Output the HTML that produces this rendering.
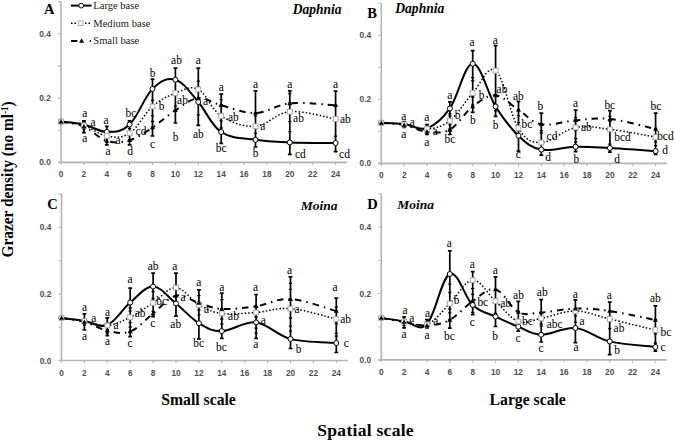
<!DOCTYPE html>
<html><head><meta charset="utf-8"><style>
html,body{margin:0;padding:0;background:#fff;width:675px;height:442px;overflow:hidden}
svg{display:block;font-family:"Liberation Serif",serif}
</style></head><body>
<svg width="675" height="442" viewBox="0 0 675 442">
<rect width="675" height="442" fill="#fff"/>
<path d="M61.0,1.6V162.4M58.0,162.4H347.0" stroke="#b4b4b4" stroke-width="1.6" fill="none"/>
<path d="M58.0,162.4H61.0M58.0,130.2H61.0M58.0,98.1H61.0M58.0,65.9H61.0M58.0,33.8H61.0M58.0,1.6H61.0M61.0,162.4v2.5M83.9,162.4v2.5M106.8,162.4v2.5M129.6,162.4v2.5M152.5,162.4v2.5M175.4,162.4v2.5M198.3,162.4v2.5M221.2,162.4v2.5M244.0,162.4v2.5M266.9,162.4v2.5M289.8,162.4v2.5M312.7,162.4v2.5M335.6,162.4v2.5" stroke="#b4b4b4" stroke-width="1.1" fill="none"/>
<text x="50.8" y="165.4" text-anchor="end" font-family="Liberation Sans" font-weight="bold" font-size="8.3" fill="#4f4f4f">0.0</text>
<text x="50.8" y="101.1" text-anchor="end" font-family="Liberation Sans" font-weight="bold" font-size="8.3" fill="#4f4f4f">0.2</text>
<text x="50.8" y="36.8" text-anchor="end" font-family="Liberation Sans" font-weight="bold" font-size="8.3" fill="#4f4f4f">0.4</text>
<text x="61.0" y="177.4" text-anchor="middle" font-family="Liberation Sans" font-weight="bold" font-size="8.3" fill="#4f4f4f">0</text>
<text x="83.9" y="177.4" text-anchor="middle" font-family="Liberation Sans" font-weight="bold" font-size="8.3" fill="#4f4f4f">2</text>
<text x="106.8" y="177.4" text-anchor="middle" font-family="Liberation Sans" font-weight="bold" font-size="8.3" fill="#4f4f4f">4</text>
<text x="129.6" y="177.4" text-anchor="middle" font-family="Liberation Sans" font-weight="bold" font-size="8.3" fill="#4f4f4f">6</text>
<text x="152.5" y="177.4" text-anchor="middle" font-family="Liberation Sans" font-weight="bold" font-size="8.3" fill="#4f4f4f">8</text>
<text x="175.4" y="177.4" text-anchor="middle" font-family="Liberation Sans" font-weight="bold" font-size="8.3" fill="#4f4f4f">10</text>
<text x="198.3" y="177.4" text-anchor="middle" font-family="Liberation Sans" font-weight="bold" font-size="8.3" fill="#4f4f4f">12</text>
<text x="221.2" y="177.4" text-anchor="middle" font-family="Liberation Sans" font-weight="bold" font-size="8.3" fill="#4f4f4f">14</text>
<text x="244.0" y="177.4" text-anchor="middle" font-family="Liberation Sans" font-weight="bold" font-size="8.3" fill="#4f4f4f">16</text>
<text x="266.9" y="177.4" text-anchor="middle" font-family="Liberation Sans" font-weight="bold" font-size="8.3" fill="#4f4f4f">18</text>
<text x="289.8" y="177.4" text-anchor="middle" font-family="Liberation Sans" font-weight="bold" font-size="8.3" fill="#4f4f4f">20</text>
<text x="312.7" y="177.4" text-anchor="middle" font-family="Liberation Sans" font-weight="bold" font-size="8.3" fill="#4f4f4f">22</text>
<text x="335.6" y="177.4" text-anchor="middle" font-family="Liberation Sans" font-weight="bold" font-size="8.3" fill="#4f4f4f">24</text>
<path d="M381.3,3.3V163.4M378.3,163.4H667.0" stroke="#b4b4b4" stroke-width="1.6" fill="none"/>
<path d="M378.3,163.4H381.3M378.3,131.4H381.3M378.3,99.4H381.3M378.3,67.3H381.3M378.3,35.3H381.3M378.3,3.3H381.3M381.3,163.4v2.5M404.2,163.4v2.5M427.0,163.4v2.5M449.9,163.4v2.5M472.7,163.4v2.5M495.6,163.4v2.5M518.5,163.4v2.5M541.3,163.4v2.5M564.2,163.4v2.5M587.0,163.4v2.5M609.9,163.4v2.5M632.8,163.4v2.5M655.6,163.4v2.5" stroke="#b4b4b4" stroke-width="1.1" fill="none"/>
<text x="371.1" y="166.4" text-anchor="end" font-family="Liberation Sans" font-weight="bold" font-size="8.3" fill="#4f4f4f">0.0</text>
<text x="371.1" y="102.4" text-anchor="end" font-family="Liberation Sans" font-weight="bold" font-size="8.3" fill="#4f4f4f">0.2</text>
<text x="371.1" y="38.3" text-anchor="end" font-family="Liberation Sans" font-weight="bold" font-size="8.3" fill="#4f4f4f">0.4</text>
<text x="381.3" y="178.4" text-anchor="middle" font-family="Liberation Sans" font-weight="bold" font-size="8.3" fill="#4f4f4f">0</text>
<text x="404.2" y="178.4" text-anchor="middle" font-family="Liberation Sans" font-weight="bold" font-size="8.3" fill="#4f4f4f">2</text>
<text x="427.0" y="178.4" text-anchor="middle" font-family="Liberation Sans" font-weight="bold" font-size="8.3" fill="#4f4f4f">4</text>
<text x="449.9" y="178.4" text-anchor="middle" font-family="Liberation Sans" font-weight="bold" font-size="8.3" fill="#4f4f4f">6</text>
<text x="472.7" y="178.4" text-anchor="middle" font-family="Liberation Sans" font-weight="bold" font-size="8.3" fill="#4f4f4f">8</text>
<text x="495.6" y="178.4" text-anchor="middle" font-family="Liberation Sans" font-weight="bold" font-size="8.3" fill="#4f4f4f">10</text>
<text x="518.5" y="178.4" text-anchor="middle" font-family="Liberation Sans" font-weight="bold" font-size="8.3" fill="#4f4f4f">12</text>
<text x="541.3" y="178.4" text-anchor="middle" font-family="Liberation Sans" font-weight="bold" font-size="8.3" fill="#4f4f4f">14</text>
<text x="564.2" y="178.4" text-anchor="middle" font-family="Liberation Sans" font-weight="bold" font-size="8.3" fill="#4f4f4f">16</text>
<text x="587.0" y="178.4" text-anchor="middle" font-family="Liberation Sans" font-weight="bold" font-size="8.3" fill="#4f4f4f">18</text>
<text x="609.9" y="178.4" text-anchor="middle" font-family="Liberation Sans" font-weight="bold" font-size="8.3" fill="#4f4f4f">20</text>
<text x="632.8" y="178.4" text-anchor="middle" font-family="Liberation Sans" font-weight="bold" font-size="8.3" fill="#4f4f4f">22</text>
<text x="655.6" y="178.4" text-anchor="middle" font-family="Liberation Sans" font-weight="bold" font-size="8.3" fill="#4f4f4f">24</text>
<path d="M61.5,194.1V360.5M58.5,360.5H347.8" stroke="#b4b4b4" stroke-width="1.6" fill="none"/>
<path d="M58.5,360.5H61.5M58.5,327.2H61.5M58.5,293.9H61.5M58.5,260.7H61.5M58.5,227.4H61.5M58.5,194.1H61.5M61.5,360.5v2.5M84.4,360.5v2.5M107.3,360.5v2.5M130.2,360.5v2.5M153.1,360.5v2.5M176.0,360.5v2.5M198.9,360.5v2.5M221.8,360.5v2.5M244.7,360.5v2.5M267.6,360.5v2.5M290.5,360.5v2.5M313.4,360.5v2.5M336.3,360.5v2.5" stroke="#b4b4b4" stroke-width="1.1" fill="none"/>
<text x="51.3" y="363.5" text-anchor="end" font-family="Liberation Sans" font-weight="bold" font-size="8.3" fill="#4f4f4f">0.0</text>
<text x="51.3" y="296.9" text-anchor="end" font-family="Liberation Sans" font-weight="bold" font-size="8.3" fill="#4f4f4f">0.2</text>
<text x="51.3" y="230.4" text-anchor="end" font-family="Liberation Sans" font-weight="bold" font-size="8.3" fill="#4f4f4f">0.4</text>
<text x="61.5" y="375.5" text-anchor="middle" font-family="Liberation Sans" font-weight="bold" font-size="8.3" fill="#4f4f4f">0</text>
<text x="84.4" y="375.5" text-anchor="middle" font-family="Liberation Sans" font-weight="bold" font-size="8.3" fill="#4f4f4f">2</text>
<text x="107.3" y="375.5" text-anchor="middle" font-family="Liberation Sans" font-weight="bold" font-size="8.3" fill="#4f4f4f">4</text>
<text x="130.2" y="375.5" text-anchor="middle" font-family="Liberation Sans" font-weight="bold" font-size="8.3" fill="#4f4f4f">6</text>
<text x="153.1" y="375.5" text-anchor="middle" font-family="Liberation Sans" font-weight="bold" font-size="8.3" fill="#4f4f4f">8</text>
<text x="176.0" y="375.5" text-anchor="middle" font-family="Liberation Sans" font-weight="bold" font-size="8.3" fill="#4f4f4f">10</text>
<text x="198.9" y="375.5" text-anchor="middle" font-family="Liberation Sans" font-weight="bold" font-size="8.3" fill="#4f4f4f">12</text>
<text x="221.8" y="375.5" text-anchor="middle" font-family="Liberation Sans" font-weight="bold" font-size="8.3" fill="#4f4f4f">14</text>
<text x="244.7" y="375.5" text-anchor="middle" font-family="Liberation Sans" font-weight="bold" font-size="8.3" fill="#4f4f4f">16</text>
<text x="267.6" y="375.5" text-anchor="middle" font-family="Liberation Sans" font-weight="bold" font-size="8.3" fill="#4f4f4f">18</text>
<text x="290.5" y="375.5" text-anchor="middle" font-family="Liberation Sans" font-weight="bold" font-size="8.3" fill="#4f4f4f">20</text>
<text x="313.4" y="375.5" text-anchor="middle" font-family="Liberation Sans" font-weight="bold" font-size="8.3" fill="#4f4f4f">22</text>
<text x="336.3" y="375.5" text-anchor="middle" font-family="Liberation Sans" font-weight="bold" font-size="8.3" fill="#4f4f4f">24</text>
<path d="M381.3,193.8V359.9M378.3,359.9H666.8" stroke="#b4b4b4" stroke-width="1.6" fill="none"/>
<path d="M378.3,359.9H381.3M378.3,326.7H381.3M378.3,293.5H381.3M378.3,260.2H381.3M378.3,227.0H381.3M378.3,193.8H381.3M381.3,359.9v2.5M404.1,359.9v2.5M427.0,359.9v2.5M449.8,359.9v2.5M472.7,359.9v2.5M495.5,359.9v2.5M518.3,359.9v2.5M541.2,359.9v2.5M564.0,359.9v2.5M586.9,359.9v2.5M609.7,359.9v2.5M632.5,359.9v2.5M655.4,359.9v2.5" stroke="#b4b4b4" stroke-width="1.1" fill="none"/>
<text x="371.1" y="362.9" text-anchor="end" font-family="Liberation Sans" font-weight="bold" font-size="8.3" fill="#4f4f4f">0.0</text>
<text x="371.1" y="296.5" text-anchor="end" font-family="Liberation Sans" font-weight="bold" font-size="8.3" fill="#4f4f4f">0.2</text>
<text x="371.1" y="230.0" text-anchor="end" font-family="Liberation Sans" font-weight="bold" font-size="8.3" fill="#4f4f4f">0.4</text>
<text x="381.3" y="374.9" text-anchor="middle" font-family="Liberation Sans" font-weight="bold" font-size="8.3" fill="#4f4f4f">0</text>
<text x="404.1" y="374.9" text-anchor="middle" font-family="Liberation Sans" font-weight="bold" font-size="8.3" fill="#4f4f4f">2</text>
<text x="427.0" y="374.9" text-anchor="middle" font-family="Liberation Sans" font-weight="bold" font-size="8.3" fill="#4f4f4f">4</text>
<text x="449.8" y="374.9" text-anchor="middle" font-family="Liberation Sans" font-weight="bold" font-size="8.3" fill="#4f4f4f">6</text>
<text x="472.7" y="374.9" text-anchor="middle" font-family="Liberation Sans" font-weight="bold" font-size="8.3" fill="#4f4f4f">8</text>
<text x="495.5" y="374.9" text-anchor="middle" font-family="Liberation Sans" font-weight="bold" font-size="8.3" fill="#4f4f4f">10</text>
<text x="518.3" y="374.9" text-anchor="middle" font-family="Liberation Sans" font-weight="bold" font-size="8.3" fill="#4f4f4f">12</text>
<text x="541.2" y="374.9" text-anchor="middle" font-family="Liberation Sans" font-weight="bold" font-size="8.3" fill="#4f4f4f">14</text>
<text x="564.0" y="374.9" text-anchor="middle" font-family="Liberation Sans" font-weight="bold" font-size="8.3" fill="#4f4f4f">16</text>
<text x="586.9" y="374.9" text-anchor="middle" font-family="Liberation Sans" font-weight="bold" font-size="8.3" fill="#4f4f4f">18</text>
<text x="609.7" y="374.9" text-anchor="middle" font-family="Liberation Sans" font-weight="bold" font-size="8.3" fill="#4f4f4f">20</text>
<text x="632.5" y="374.9" text-anchor="middle" font-family="Liberation Sans" font-weight="bold" font-size="8.3" fill="#4f4f4f">22</text>
<text x="655.4" y="374.9" text-anchor="middle" font-family="Liberation Sans" font-weight="bold" font-size="8.3" fill="#4f4f4f">24</text>
<path d="M83.9,120.8V132.6M82.0,120.8h3.8M82.0,132.6h3.8" stroke="#000" stroke-width="1.7" fill="none"/>
<path d="M82.3,121.3h3.2M82.3,129.0h3.2" stroke="#000" stroke-width="1.3" fill="none"/>
<path d="M106.8,126.3V144.8M104.9,126.3h3.8M104.9,144.8h3.8" stroke="#000" stroke-width="1.7" fill="none"/>
<path d="M105.2,138.5h3.2" stroke="#000" stroke-width="1.3" fill="none"/>
<path d="M129.6,120.9V144.8M127.7,120.9h3.8M127.7,144.8h3.8" stroke="#000" stroke-width="1.7" fill="none"/>
<path d="M128.0,128.6h3.2M128.0,139.9h3.2" stroke="#000" stroke-width="1.3" fill="none"/>
<path d="M152.5,79.2V136.0M150.6,79.2h3.8M150.6,136.0h3.8" stroke="#000" stroke-width="1.7" fill="none"/>
<path d="M150.9,100.4h3.2M150.9,115.8h3.2M150.9,121.5h3.2M150.9,127.3h3.2" stroke="#000" stroke-width="1.3" fill="none"/>
<path d="M175.4,68.1V123.0M173.5,68.1h3.8M173.5,123.0h3.8" stroke="#000" stroke-width="1.7" fill="none"/>
<path d="M173.8,91.7h3.2M173.8,106.2h3.2M173.8,111.0h3.2" stroke="#000" stroke-width="1.3" fill="none"/>
<path d="M198.3,68.1V125.4M196.4,68.1h3.8M196.4,125.4h3.8" stroke="#000" stroke-width="1.7" fill="none"/>
<path d="M196.7,81.2h3.2M196.7,86.9h3.2M196.7,98.5h3.2M196.7,114.8h3.2" stroke="#000" stroke-width="1.3" fill="none"/>
<path d="M221.2,94.1V143.4M219.3,94.1h3.8M219.3,143.4h3.8" stroke="#000" stroke-width="1.7" fill="none"/>
<path d="M219.6,99.6h3.2M219.6,105.0h3.2M219.6,120.8h3.2M219.6,128.0h3.2" stroke="#000" stroke-width="1.3" fill="none"/>
<path d="M255.5,90.9V147.0M253.6,90.9h3.8M253.6,147.0h3.8" stroke="#000" stroke-width="1.7" fill="none"/>
<path d="M253.9,112.6h3.2M253.9,116.2h3.2M253.9,133.4h3.2" stroke="#000" stroke-width="1.3" fill="none"/>
<path d="M289.8,90.9V154.3M287.9,90.9h3.8M287.9,154.3h3.8" stroke="#000" stroke-width="1.7" fill="none"/>
<path d="M288.2,93.6h3.2M288.2,102.6h3.2M288.2,121.7h3.2M288.2,131.6h3.2" stroke="#000" stroke-width="1.3" fill="none"/>
<path d="M335.6,91.2V151.6M333.7,91.2h3.8M333.7,151.6h3.8" stroke="#000" stroke-width="1.7" fill="none"/>
<path d="M334.0,105.4h3.2M334.0,136.2h3.2" stroke="#000" stroke-width="1.3" fill="none"/>
<path d="M61.00,121.60 C65.12,122.12 75.64,122.66 83.88,124.50 C92.12,126.34 98.52,131.80 106.76,131.80 C115.00,131.80 121.40,132.22 129.64,124.50 C137.88,116.78 144.28,96.96 152.52,88.90 C160.76,80.84 167.16,77.34 175.40,79.70 C183.64,82.06 190.04,92.59 198.28,102.00 C206.52,111.41 210.86,125.20 221.16,132.00 C231.46,138.80 243.12,137.93 255.48,139.80 C267.84,141.67 275.39,141.82 289.80,142.40 C304.21,142.98 327.32,142.89 335.56,143.00" stroke="#000" stroke-width="2" fill="none"/>
<path d="M61.00,121.60 C65.12,122.30 75.64,122.91 83.88,125.50 C92.12,128.09 98.52,134.61 106.76,136.00 C115.00,137.39 121.40,138.51 129.64,133.20 C137.88,127.89 144.28,113.70 152.52,106.50 C160.76,99.30 167.16,96.28 175.40,93.20 C183.64,90.12 190.04,85.31 198.28,89.40 C206.52,93.49 210.86,109.26 221.16,115.90 C231.46,122.54 243.12,127.06 255.48,126.30 C267.84,125.54 275.39,113.01 289.80,111.70 C304.21,110.39 327.32,117.69 335.56,119.00" stroke="#000" stroke-width="1.5" fill="none" stroke-dasharray="1.5 2"/>
<path d="M61.00,121.80 C65.12,122.65 75.64,123.04 83.88,126.50 C92.12,129.96 98.52,138.53 106.76,141.00 C115.00,143.47 121.40,142.63 129.64,140.20 C137.88,137.77 144.28,132.90 152.52,127.50 C160.76,122.10 167.16,115.47 175.40,110.20 C183.64,104.93 190.04,99.10 198.28,98.20 C206.52,97.30 210.86,102.54 221.16,105.20 C231.46,107.86 243.12,113.32 255.48,113.00 C267.84,112.68 275.39,104.80 289.80,103.40 C304.21,102.00 327.32,104.88 335.56,105.20" stroke="#000" stroke-width="2" fill="none" stroke-dasharray="6.5 5 1.5 5"/>
<circle cx="61.0" cy="121.6" r="2.5" fill="#fff" stroke="#000" stroke-width="1"/>
<circle cx="83.9" cy="124.5" r="2.5" fill="#fff" stroke="#000" stroke-width="1"/>
<circle cx="106.8" cy="131.8" r="2.5" fill="#fff" stroke="#000" stroke-width="1"/>
<circle cx="129.6" cy="124.5" r="2.5" fill="#fff" stroke="#000" stroke-width="1"/>
<circle cx="152.5" cy="88.9" r="2.5" fill="#fff" stroke="#000" stroke-width="1"/>
<circle cx="175.4" cy="79.7" r="2.5" fill="#fff" stroke="#000" stroke-width="1"/>
<circle cx="198.3" cy="102.0" r="2.5" fill="#fff" stroke="#000" stroke-width="1"/>
<circle cx="221.2" cy="132.0" r="2.5" fill="#fff" stroke="#000" stroke-width="1"/>
<circle cx="255.5" cy="139.8" r="2.5" fill="#fff" stroke="#000" stroke-width="1"/>
<circle cx="289.8" cy="142.4" r="2.5" fill="#fff" stroke="#000" stroke-width="1"/>
<circle cx="335.6" cy="143.0" r="2.5" fill="#fff" stroke="#000" stroke-width="1"/>
<rect x="58.6" y="119.2" width="4.8" height="4.8" fill="#fff" stroke="#aaa" stroke-width="1"/>
<rect x="81.5" y="123.1" width="4.8" height="4.8" fill="#fff" stroke="#aaa" stroke-width="1"/>
<rect x="104.4" y="133.6" width="4.8" height="4.8" fill="#fff" stroke="#aaa" stroke-width="1"/>
<rect x="127.2" y="130.8" width="4.8" height="4.8" fill="#fff" stroke="#aaa" stroke-width="1"/>
<rect x="150.1" y="104.1" width="4.8" height="4.8" fill="#fff" stroke="#aaa" stroke-width="1"/>
<rect x="173.0" y="90.8" width="4.8" height="4.8" fill="#fff" stroke="#aaa" stroke-width="1"/>
<rect x="195.9" y="87.0" width="4.8" height="4.8" fill="#fff" stroke="#aaa" stroke-width="1"/>
<rect x="218.8" y="113.5" width="4.8" height="4.8" fill="#fff" stroke="#aaa" stroke-width="1"/>
<rect x="253.1" y="123.9" width="4.8" height="4.8" fill="#fff" stroke="#aaa" stroke-width="1"/>
<rect x="287.4" y="109.3" width="4.8" height="4.8" fill="#fff" stroke="#aaa" stroke-width="1"/>
<rect x="333.2" y="116.6" width="4.8" height="4.8" fill="#fff" stroke="#aaa" stroke-width="1"/>
<path d="M61.0,119.2L63.5,123.6L58.5,123.6Z" fill="#000"/>
<path d="M83.9,123.9L86.4,128.3L81.4,128.3Z" fill="#000"/>
<path d="M106.8,138.4L109.3,142.8L104.3,142.8Z" fill="#000"/>
<path d="M129.6,137.6L132.1,142.0L127.1,142.0Z" fill="#000"/>
<path d="M152.5,124.9L155.0,129.3L150.0,129.3Z" fill="#000"/>
<path d="M175.4,107.6L177.9,112.0L172.9,112.0Z" fill="#000"/>
<path d="M198.3,95.6L200.8,100.0L195.8,100.0Z" fill="#000"/>
<path d="M221.2,102.6L223.7,107.0L218.7,107.0Z" fill="#000"/>
<path d="M255.5,110.4L258.0,114.8L253.0,114.8Z" fill="#000"/>
<path d="M289.8,100.8L292.3,105.2L287.3,105.2Z" fill="#000"/>
<path d="M335.6,102.6L338.1,107.0L333.1,107.0Z" fill="#000"/>
<text transform="translate(84.8,116.8) scale(0.93,1)" text-anchor="middle" font-family="Liberation Serif" font-size="12.3" fill="#000" stroke="#000" stroke-width="0.05">a</text>
<text transform="translate(93.0,125.6) scale(0.93,1)" text-anchor="middle" font-family="Liberation Serif" font-size="12.3" fill="#000" stroke="#000" stroke-width="0.05">a</text>
<text transform="translate(84.8,142.4) scale(0.93,1)" text-anchor="middle" font-family="Liberation Serif" font-size="12.3" fill="#000" stroke="#000" stroke-width="0.05">a</text>
<text transform="translate(106.0,123.8) scale(0.93,1)" text-anchor="middle" font-family="Liberation Serif" font-size="12.3" fill="#000" stroke="#000" stroke-width="0.05">a</text>
<text transform="translate(108.0,154.7) scale(0.93,1)" text-anchor="middle" font-family="Liberation Serif" font-size="12.3" fill="#000" stroke="#000" stroke-width="0.05">a</text>
<text transform="translate(118.0,144.4) scale(0.93,1)" text-anchor="middle" font-family="Liberation Serif" font-size="12.3" fill="#000" stroke="#000" stroke-width="0.05">a</text>
<text transform="translate(131.0,116.6) scale(0.93,1)" text-anchor="middle" font-family="Liberation Serif" font-size="12.3" fill="#000" stroke="#000" stroke-width="0.05">bc</text>
<text transform="translate(141.0,134.9) scale(0.93,1)" text-anchor="middle" font-family="Liberation Serif" font-size="12.3" fill="#000" stroke="#000" stroke-width="0.05">cd</text>
<text transform="translate(130.0,154.9) scale(0.93,1)" text-anchor="middle" font-family="Liberation Serif" font-size="12.3" fill="#000" stroke="#000" stroke-width="0.05">d</text>
<text transform="translate(152.6,77.0) scale(0.93,1)" text-anchor="middle" font-family="Liberation Serif" font-size="12.3" fill="#000" stroke="#000" stroke-width="0.05">b</text>
<text transform="translate(161.5,110.2) scale(0.93,1)" text-anchor="middle" font-family="Liberation Serif" font-size="12.3" fill="#000" stroke="#000" stroke-width="0.05">b</text>
<text transform="translate(152.6,147.5) scale(0.93,1)" text-anchor="middle" font-family="Liberation Serif" font-size="12.3" fill="#000" stroke="#000" stroke-width="0.05">c</text>
<text transform="translate(176.5,64.4) scale(0.93,1)" text-anchor="middle" font-family="Liberation Serif" font-size="12.3" fill="#000" stroke="#000" stroke-width="0.05">ab</text>
<text transform="translate(182.5,103.9) scale(0.93,1)" text-anchor="middle" font-family="Liberation Serif" font-size="12.3" fill="#000" stroke="#000" stroke-width="0.05">ab</text>
<text transform="translate(175.5,140.9) scale(0.93,1)" text-anchor="middle" font-family="Liberation Serif" font-size="12.3" fill="#000" stroke="#000" stroke-width="0.05">b</text>
<text transform="translate(198.4,64.4) scale(0.93,1)" text-anchor="middle" font-family="Liberation Serif" font-size="12.3" fill="#000" stroke="#000" stroke-width="0.05">a</text>
<text transform="translate(205.5,105.4) scale(0.93,1)" text-anchor="middle" font-family="Liberation Serif" font-size="12.3" fill="#000" stroke="#000" stroke-width="0.05">a</text>
<text transform="translate(198.4,138.0) scale(0.93,1)" text-anchor="middle" font-family="Liberation Serif" font-size="12.3" fill="#000" stroke="#000" stroke-width="0.05">ab</text>
<text transform="translate(221.2,91.2) scale(0.93,1)" text-anchor="middle" font-family="Liberation Serif" font-size="12.3" fill="#000" stroke="#000" stroke-width="0.05">a</text>
<text transform="translate(233.4,121.4) scale(0.93,1)" text-anchor="middle" font-family="Liberation Serif" font-size="12.3" fill="#000" stroke="#000" stroke-width="0.05">ab</text>
<text transform="translate(221.2,152.4) scale(0.93,1)" text-anchor="middle" font-family="Liberation Serif" font-size="12.3" fill="#000" stroke="#000" stroke-width="0.05">bc</text>
<text transform="translate(255.5,88.3) scale(0.93,1)" text-anchor="middle" font-family="Liberation Serif" font-size="12.3" fill="#000" stroke="#000" stroke-width="0.05">a</text>
<text transform="translate(262.8,129.7) scale(0.93,1)" text-anchor="middle" font-family="Liberation Serif" font-size="12.3" fill="#000" stroke="#000" stroke-width="0.05">a</text>
<text transform="translate(255.5,157.4) scale(0.93,1)" text-anchor="middle" font-family="Liberation Serif" font-size="12.3" fill="#000" stroke="#000" stroke-width="0.05">b</text>
<text transform="translate(289.8,88.3) scale(0.93,1)" text-anchor="middle" font-family="Liberation Serif" font-size="12.3" fill="#000" stroke="#000" stroke-width="0.05">a</text>
<text transform="translate(298.5,121.6) scale(0.93,1)" text-anchor="middle" font-family="Liberation Serif" font-size="12.3" fill="#000" stroke="#000" stroke-width="0.05">ab</text>
<text transform="translate(300.4,157.6) scale(0.93,1)" text-anchor="middle" font-family="Liberation Serif" font-size="12.3" fill="#000" stroke="#000" stroke-width="0.05">cd</text>
<text transform="translate(335.5,88.3) scale(0.93,1)" text-anchor="middle" font-family="Liberation Serif" font-size="12.3" fill="#000" stroke="#000" stroke-width="0.05">a</text>
<text transform="translate(345.3,122.9) scale(0.93,1)" text-anchor="middle" font-family="Liberation Serif" font-size="12.3" fill="#000" stroke="#000" stroke-width="0.05">ab</text>
<text transform="translate(344.5,157.6) scale(0.93,1)" text-anchor="middle" font-family="Liberation Serif" font-size="12.3" fill="#000" stroke="#000" stroke-width="0.05">cd</text>
<path d="M404.2,121.5V127.5M402.3,121.5h3.8M402.3,127.5h3.8" stroke="#000" stroke-width="1.7" fill="none"/>
<path d="M427.0,124.5V134.5M425.1,124.5h3.8M425.1,134.5h3.8" stroke="#000" stroke-width="1.7" fill="none"/>
<path d="M425.4,131.7h3.2" stroke="#000" stroke-width="1.3" fill="none"/>
<path d="M449.9,101.8V134.5M448.0,101.8h3.8M448.0,134.5h3.8" stroke="#000" stroke-width="1.7" fill="none"/>
<path d="M448.3,113.6h3.2M448.3,115.9h3.2M448.3,125.0h3.2M448.3,128.9h3.2M448.3,131.2h3.2" stroke="#000" stroke-width="1.3" fill="none"/>
<path d="M472.7,50.6V112.3M470.8,50.6h3.8M470.8,112.3h3.8" stroke="#000" stroke-width="1.7" fill="none"/>
<path d="M471.1,77.7h3.2M471.1,80.7h3.2M471.1,97.0h3.2M471.1,105.2h3.2" stroke="#000" stroke-width="1.3" fill="none"/>
<path d="M495.6,45.7V116.4M493.7,45.7h3.8M493.7,116.4h3.8" stroke="#000" stroke-width="1.7" fill="none"/>
<path d="M494.0,94.6h3.2M494.0,110.9h3.2" stroke="#000" stroke-width="1.3" fill="none"/>
<path d="M518.5,101.3V151.2M516.6,101.3h3.8M516.6,151.2h3.8" stroke="#000" stroke-width="1.7" fill="none"/>
<path d="M516.9,110.5h3.2M516.9,115.6h3.2M516.9,122.7h3.2" stroke="#000" stroke-width="1.3" fill="none"/>
<path d="M541.3,113.2V155.1M539.4,113.2h3.8M539.4,155.1h3.8" stroke="#000" stroke-width="1.7" fill="none"/>
<path d="M539.7,124.3h3.2M539.7,130.6h3.2M539.7,133.0h3.2" stroke="#000" stroke-width="1.3" fill="none"/>
<path d="M575.6,110.2V151.6M573.7,110.2h3.8M573.7,151.6h3.8" stroke="#000" stroke-width="1.7" fill="none"/>
<path d="M574.0,117.6h3.2M574.0,121.0h3.2M574.0,130.5h3.2M574.0,138.7h3.2M574.0,142.0h3.2" stroke="#000" stroke-width="1.3" fill="none"/>
<path d="M609.9,110.6V152.2M608.0,110.6h3.8M608.0,152.2h3.8" stroke="#000" stroke-width="1.7" fill="none"/>
<path d="M608.3,116.3h3.2M608.3,121.0h3.2M608.3,144.1h3.2" stroke="#000" stroke-width="1.3" fill="none"/>
<path d="M655.6,113.2V154.4M653.7,113.2h3.8M653.7,154.4h3.8" stroke="#000" stroke-width="1.7" fill="none"/>
<path d="M654.0,128.3h3.2M654.0,141.8h3.2M654.0,145.7h3.2" stroke="#000" stroke-width="1.3" fill="none"/>
<path d="M381.30,122.80 C385.41,123.02 395.93,123.03 404.16,124.00 C412.39,124.97 418.79,131.01 427.02,128.20 C435.25,125.39 441.65,120.01 449.88,108.40 C458.11,96.79 464.51,64.04 472.74,63.70 C480.97,63.36 487.37,93.52 495.60,106.50 C503.83,119.48 510.23,128.04 518.46,135.80 C526.69,143.56 531.03,147.64 541.32,149.60 C551.61,151.56 563.27,146.99 575.61,146.70 C587.95,146.41 595.50,147.21 609.90,148.00 C624.30,148.79 647.39,150.54 655.62,151.10" stroke="#000" stroke-width="2" fill="none"/>
<path d="M381.30,122.80 C385.41,123.11 395.93,123.38 404.16,124.50 C412.39,125.62 418.79,129.68 427.02,129.00 C435.25,128.32 441.65,127.18 449.88,120.70 C458.11,114.22 464.51,102.00 472.74,93.00 C480.97,84.00 487.37,64.38 495.60,70.70 C503.83,77.02 510.23,115.18 518.46,128.10 C526.69,141.02 531.03,142.61 541.32,142.50 C551.61,142.39 563.27,129.88 575.61,127.50 C587.95,125.12 595.50,127.57 609.90,129.30 C624.30,131.03 647.39,135.70 655.62,137.10" stroke="#000" stroke-width="1.5" fill="none" stroke-dasharray="1.5 2"/>
<path d="M381.30,123.00 C385.41,123.36 395.93,123.45 404.16,125.00 C412.39,126.55 418.79,130.77 427.02,131.60 C435.25,132.43 441.65,134.12 449.88,129.60 C458.11,125.08 464.51,112.66 472.74,106.50 C480.97,100.34 487.37,94.81 495.60,95.40 C503.83,95.99 510.23,104.62 518.46,109.80 C526.69,114.98 531.03,122.31 541.32,124.20 C551.61,126.09 563.27,121.24 575.61,120.30 C587.95,119.36 595.50,117.43 609.90,119.00 C624.30,120.57 647.39,127.20 655.62,129.00" stroke="#000" stroke-width="2" fill="none" stroke-dasharray="6.5 5 1.5 5"/>
<circle cx="381.3" cy="122.8" r="2.5" fill="#fff" stroke="#000" stroke-width="1"/>
<circle cx="404.2" cy="124.0" r="2.5" fill="#fff" stroke="#000" stroke-width="1"/>
<circle cx="427.0" cy="128.2" r="2.5" fill="#fff" stroke="#000" stroke-width="1"/>
<circle cx="449.9" cy="108.4" r="2.5" fill="#fff" stroke="#000" stroke-width="1"/>
<circle cx="472.7" cy="63.7" r="2.5" fill="#fff" stroke="#000" stroke-width="1"/>
<circle cx="495.6" cy="106.5" r="2.5" fill="#fff" stroke="#000" stroke-width="1"/>
<circle cx="518.5" cy="135.8" r="2.5" fill="#fff" stroke="#000" stroke-width="1"/>
<circle cx="541.3" cy="149.6" r="2.5" fill="#fff" stroke="#000" stroke-width="1"/>
<circle cx="575.6" cy="146.7" r="2.5" fill="#fff" stroke="#000" stroke-width="1"/>
<circle cx="609.9" cy="148.0" r="2.5" fill="#fff" stroke="#000" stroke-width="1"/>
<circle cx="655.6" cy="151.1" r="2.5" fill="#fff" stroke="#000" stroke-width="1"/>
<rect x="378.9" y="120.4" width="4.8" height="4.8" fill="#fff" stroke="#aaa" stroke-width="1"/>
<rect x="401.8" y="122.1" width="4.8" height="4.8" fill="#fff" stroke="#aaa" stroke-width="1"/>
<rect x="424.6" y="126.6" width="4.8" height="4.8" fill="#fff" stroke="#aaa" stroke-width="1"/>
<rect x="447.5" y="118.3" width="4.8" height="4.8" fill="#fff" stroke="#aaa" stroke-width="1"/>
<rect x="470.3" y="90.6" width="4.8" height="4.8" fill="#fff" stroke="#aaa" stroke-width="1"/>
<rect x="493.2" y="68.3" width="4.8" height="4.8" fill="#fff" stroke="#aaa" stroke-width="1"/>
<rect x="516.1" y="125.7" width="4.8" height="4.8" fill="#fff" stroke="#aaa" stroke-width="1"/>
<rect x="538.9" y="140.1" width="4.8" height="4.8" fill="#fff" stroke="#aaa" stroke-width="1"/>
<rect x="573.2" y="125.1" width="4.8" height="4.8" fill="#fff" stroke="#aaa" stroke-width="1"/>
<rect x="607.5" y="126.9" width="4.8" height="4.8" fill="#fff" stroke="#aaa" stroke-width="1"/>
<rect x="653.2" y="134.7" width="4.8" height="4.8" fill="#fff" stroke="#aaa" stroke-width="1"/>
<path d="M381.3,120.4L383.8,124.8L378.8,124.8Z" fill="#000"/>
<path d="M404.2,122.4L406.7,126.8L401.7,126.8Z" fill="#000"/>
<path d="M427.0,129.0L429.5,133.4L424.5,133.4Z" fill="#000"/>
<path d="M449.9,127.0L452.4,131.4L447.4,131.4Z" fill="#000"/>
<path d="M472.7,103.9L475.2,108.3L470.2,108.3Z" fill="#000"/>
<path d="M495.6,92.8L498.1,97.2L493.1,97.2Z" fill="#000"/>
<path d="M518.5,107.2L521.0,111.6L516.0,111.6Z" fill="#000"/>
<path d="M541.3,121.6L543.8,126.0L538.8,126.0Z" fill="#000"/>
<path d="M575.6,117.7L578.1,122.1L573.1,122.1Z" fill="#000"/>
<path d="M609.9,116.4L612.4,120.8L607.4,120.8Z" fill="#000"/>
<path d="M655.6,126.4L658.1,130.8L653.1,130.8Z" fill="#000"/>
<text transform="translate(403.9,119.7) scale(0.93,1)" text-anchor="middle" font-family="Liberation Serif" font-size="12.3" fill="#000" stroke="#000" stroke-width="0.05">a</text>
<text transform="translate(412.4,125.7) scale(0.93,1)" text-anchor="middle" font-family="Liberation Serif" font-size="12.3" fill="#000" stroke="#000" stroke-width="0.05">a</text>
<text transform="translate(403.9,137.5) scale(0.93,1)" text-anchor="middle" font-family="Liberation Serif" font-size="12.3" fill="#000" stroke="#000" stroke-width="0.05">a</text>
<text transform="translate(426.8,121.1) scale(0.93,1)" text-anchor="middle" font-family="Liberation Serif" font-size="12.3" fill="#000" stroke="#000" stroke-width="0.05">a</text>
<text transform="translate(435.3,135.0) scale(0.93,1)" text-anchor="middle" font-family="Liberation Serif" font-size="12.3" fill="#000" stroke="#000" stroke-width="0.05">a</text>
<text transform="translate(426.8,146.0) scale(0.93,1)" text-anchor="middle" font-family="Liberation Serif" font-size="12.3" fill="#000" stroke="#000" stroke-width="0.05">a</text>
<text transform="translate(449.7,99.4) scale(0.93,1)" text-anchor="middle" font-family="Liberation Serif" font-size="12.3" fill="#000" stroke="#000" stroke-width="0.05">a</text>
<text transform="translate(457.7,119.4) scale(0.93,1)" text-anchor="middle" font-family="Liberation Serif" font-size="12.3" fill="#000" stroke="#000" stroke-width="0.05">b</text>
<text transform="translate(449.9,143.4) scale(0.93,1)" text-anchor="middle" font-family="Liberation Serif" font-size="12.3" fill="#000" stroke="#000" stroke-width="0.05">bc</text>
<text transform="translate(472.1,45.8) scale(0.93,1)" text-anchor="middle" font-family="Liberation Serif" font-size="12.3" fill="#000" stroke="#000" stroke-width="0.05">a</text>
<text transform="translate(481.5,98.8) scale(0.93,1)" text-anchor="middle" font-family="Liberation Serif" font-size="12.3" fill="#000" stroke="#000" stroke-width="0.05">b</text>
<text transform="translate(472.8,124.1) scale(0.93,1)" text-anchor="middle" font-family="Liberation Serif" font-size="12.3" fill="#000" stroke="#000" stroke-width="0.05">b</text>
<text transform="translate(495.2,43.5) scale(0.93,1)" text-anchor="middle" font-family="Liberation Serif" font-size="12.3" fill="#000" stroke="#000" stroke-width="0.05">a</text>
<text transform="translate(502.0,93.2) scale(0.93,1)" text-anchor="middle" font-family="Liberation Serif" font-size="12.3" fill="#000" stroke="#000" stroke-width="0.05">ab</text>
<text transform="translate(495.6,128.9) scale(0.93,1)" text-anchor="middle" font-family="Liberation Serif" font-size="12.3" fill="#000" stroke="#000" stroke-width="0.05">b</text>
<text transform="translate(518.3,99.7) scale(0.93,1)" text-anchor="middle" font-family="Liberation Serif" font-size="12.3" fill="#000" stroke="#000" stroke-width="0.05">ab</text>
<text transform="translate(527.0,127.6) scale(0.93,1)" text-anchor="middle" font-family="Liberation Serif" font-size="12.3" fill="#000" stroke="#000" stroke-width="0.05">bc</text>
<text transform="translate(518.4,158.2) scale(0.93,1)" text-anchor="middle" font-family="Liberation Serif" font-size="12.3" fill="#000" stroke="#000" stroke-width="0.05">c</text>
<text transform="translate(540.4,110.4) scale(0.93,1)" text-anchor="middle" font-family="Liberation Serif" font-size="12.3" fill="#000" stroke="#000" stroke-width="0.05">b</text>
<text transform="translate(552.0,140.1) scale(0.93,1)" text-anchor="middle" font-family="Liberation Serif" font-size="12.3" fill="#000" stroke="#000" stroke-width="0.05">cd</text>
<text transform="translate(548.0,161.3) scale(0.93,1)" text-anchor="middle" font-family="Liberation Serif" font-size="12.3" fill="#000" stroke="#000" stroke-width="0.05">d</text>
<text transform="translate(575.5,107.0) scale(0.93,1)" text-anchor="middle" font-family="Liberation Serif" font-size="12.3" fill="#000" stroke="#000" stroke-width="0.05">a</text>
<text transform="translate(586.3,130.9) scale(0.93,1)" text-anchor="middle" font-family="Liberation Serif" font-size="12.3" fill="#000" stroke="#000" stroke-width="0.05">ab</text>
<text transform="translate(576.3,163.2) scale(0.93,1)" text-anchor="middle" font-family="Liberation Serif" font-size="12.3" fill="#000" stroke="#000" stroke-width="0.05">b</text>
<text transform="translate(609.8,108.5) scale(0.93,1)" text-anchor="middle" font-family="Liberation Serif" font-size="12.3" fill="#000" stroke="#000" stroke-width="0.05">bc</text>
<text transform="translate(622.5,141.4) scale(0.93,1)" text-anchor="middle" font-family="Liberation Serif" font-size="12.3" fill="#000" stroke="#000" stroke-width="0.05">bcd</text>
<text transform="translate(617.0,163.2) scale(0.93,1)" text-anchor="middle" font-family="Liberation Serif" font-size="12.3" fill="#000" stroke="#000" stroke-width="0.05">d</text>
<text transform="translate(656.0,109.7) scale(0.93,1)" text-anchor="middle" font-family="Liberation Serif" font-size="12.3" fill="#000" stroke="#000" stroke-width="0.05">bc</text>
<text transform="translate(665.4,139.9) scale(0.93,1)" text-anchor="middle" font-family="Liberation Serif" font-size="12.3" fill="#000" stroke="#000" stroke-width="0.05">bcd</text>
<text transform="translate(665.0,154.1) scale(0.93,1)" text-anchor="middle" font-family="Liberation Serif" font-size="12.3" fill="#000" stroke="#000" stroke-width="0.05">d</text>
<path d="M84.4,313.8V330.0M82.5,313.8h3.8M82.5,330.0h3.8" stroke="#000" stroke-width="1.7" fill="none"/>
<path d="M82.8,324.9h3.2" stroke="#000" stroke-width="1.3" fill="none"/>
<path d="M107.3,317.9V335.6M105.4,317.9h3.8M105.4,335.6h3.8" stroke="#000" stroke-width="1.7" fill="none"/>
<path d="M105.7,330.0h3.2M105.7,333.0h3.2" stroke="#000" stroke-width="1.3" fill="none"/>
<path d="M130.2,288.1V336.6M128.3,288.1h3.8M128.3,336.6h3.8" stroke="#000" stroke-width="1.7" fill="none"/>
<path d="M128.6,308.0h3.2M128.6,310.9h3.2M128.6,322.6h3.2M128.6,327.0h3.2M128.6,331.5h3.2" stroke="#000" stroke-width="1.3" fill="none"/>
<path d="M153.1,273.1V316.7M151.2,273.1h3.8M151.2,316.7h3.8" stroke="#000" stroke-width="1.7" fill="none"/>
<path d="M151.5,291.7h3.2M151.5,298.5h3.2M151.5,311.5h3.2" stroke="#000" stroke-width="1.3" fill="none"/>
<path d="M176.0,273.1V316.2M174.1,273.1h3.8M174.1,316.2h3.8" stroke="#000" stroke-width="1.7" fill="none"/>
<path d="M174.4,295.6h3.2" stroke="#000" stroke-width="1.3" fill="none"/>
<path d="M198.9,289.8V338.8M197.0,289.8h3.8M197.0,338.8h3.8" stroke="#000" stroke-width="1.7" fill="none"/>
<path d="M197.3,295.6h3.2M197.3,301.9h3.2M197.3,310.0h3.2M197.3,314.8h3.2" stroke="#000" stroke-width="1.3" fill="none"/>
<path d="M221.8,293.1V338.3M219.9,293.1h3.8M219.9,338.3h3.8" stroke="#000" stroke-width="1.7" fill="none"/>
<path d="M220.2,299.6h3.2M220.2,308.8h3.2M220.2,319.0h3.2M220.2,324.1h3.2" stroke="#000" stroke-width="1.3" fill="none"/>
<path d="M256.1,294.5V338.3M254.2,294.5h3.8M254.2,338.3h3.8" stroke="#000" stroke-width="1.7" fill="none"/>
<path d="M254.5,306.8h3.2M254.5,317.0h3.2M254.5,328.1h3.2M254.5,333.2h3.2" stroke="#000" stroke-width="1.3" fill="none"/>
<path d="M290.5,276.8V348.5M288.6,276.8h3.8M288.6,348.5h3.8" stroke="#000" stroke-width="1.7" fill="none"/>
<path d="M288.9,283.3h3.2M288.9,289.4h3.2M288.9,300.0h3.2M288.9,318.0h3.2M288.9,326.1h3.2M288.9,331.2h3.2" stroke="#000" stroke-width="1.3" fill="none"/>
<path d="M336.3,298.1V352.5M334.4,298.1h3.8M334.4,352.5h3.8" stroke="#000" stroke-width="1.7" fill="none"/>
<path d="M334.7,307.2h3.2M334.7,311.2h3.2M334.7,323.5h3.2M334.7,333.4h3.2M334.7,336.2h3.2" stroke="#000" stroke-width="1.3" fill="none"/>
<path d="M61.50,317.90 C65.62,318.44 76.16,319.62 84.40,320.90 C92.64,322.18 99.06,328.29 107.30,325.00 C115.54,321.71 121.96,309.51 130.20,302.60 C138.44,295.69 144.86,286.44 153.10,286.60 C161.34,286.76 167.76,296.91 176.00,303.50 C184.24,310.09 190.66,318.23 198.90,323.20 C207.14,328.17 211.49,331.24 221.80,331.10 C232.10,330.96 243.78,321.00 256.15,322.40 C268.52,323.80 276.07,335.19 290.50,338.90 C304.93,342.61 328.06,342.26 336.30,343.00" stroke="#000" stroke-width="2" fill="none"/>
<path d="M61.50,317.90 C65.62,318.46 76.16,319.63 84.40,321.00 C92.64,322.37 99.06,326.17 107.30,325.50 C115.54,324.83 121.96,321.37 130.20,317.30 C138.44,313.23 144.86,308.25 153.10,302.90 C161.34,297.55 167.76,287.24 176.00,287.60 C184.24,287.96 190.66,300.26 198.90,304.90 C207.14,309.54 211.49,312.03 221.80,313.40 C232.10,314.77 243.78,313.36 256.15,312.50 C268.52,311.64 276.07,307.41 290.50,308.60 C304.93,309.79 328.06,317.21 336.30,319.10" stroke="#000" stroke-width="1.5" fill="none" stroke-dasharray="1.5 2"/>
<path d="M61.50,318.00 C65.62,318.72 76.16,319.75 84.40,322.00 C92.64,324.25 99.06,328.79 107.30,330.50 C115.54,332.21 121.96,334.56 130.20,331.50 C138.44,328.44 144.86,319.94 153.10,313.50 C161.34,307.06 167.76,297.61 176.00,295.70 C184.24,293.79 190.66,300.52 198.90,302.90 C207.14,305.28 211.49,308.31 221.80,308.90 C232.10,309.49 243.78,307.96 256.15,306.20 C268.52,304.44 276.07,298.24 290.50,299.10 C304.93,299.96 328.06,308.86 336.30,311.00" stroke="#000" stroke-width="2" fill="none" stroke-dasharray="6.5 5 1.5 5"/>
<circle cx="61.5" cy="317.9" r="2.5" fill="#fff" stroke="#000" stroke-width="1"/>
<circle cx="84.4" cy="320.9" r="2.5" fill="#fff" stroke="#000" stroke-width="1"/>
<circle cx="107.3" cy="325.0" r="2.5" fill="#fff" stroke="#000" stroke-width="1"/>
<circle cx="130.2" cy="302.6" r="2.5" fill="#fff" stroke="#000" stroke-width="1"/>
<circle cx="153.1" cy="286.6" r="2.5" fill="#fff" stroke="#000" stroke-width="1"/>
<circle cx="176.0" cy="303.5" r="2.5" fill="#fff" stroke="#000" stroke-width="1"/>
<circle cx="198.9" cy="323.2" r="2.5" fill="#fff" stroke="#000" stroke-width="1"/>
<circle cx="221.8" cy="331.1" r="2.5" fill="#fff" stroke="#000" stroke-width="1"/>
<circle cx="256.1" cy="322.4" r="2.5" fill="#fff" stroke="#000" stroke-width="1"/>
<circle cx="290.5" cy="338.9" r="2.5" fill="#fff" stroke="#000" stroke-width="1"/>
<circle cx="336.3" cy="343.0" r="2.5" fill="#fff" stroke="#000" stroke-width="1"/>
<rect x="59.1" y="315.5" width="4.8" height="4.8" fill="#fff" stroke="#aaa" stroke-width="1"/>
<rect x="82.0" y="318.6" width="4.8" height="4.8" fill="#fff" stroke="#aaa" stroke-width="1"/>
<rect x="104.9" y="323.1" width="4.8" height="4.8" fill="#fff" stroke="#aaa" stroke-width="1"/>
<rect x="127.8" y="314.9" width="4.8" height="4.8" fill="#fff" stroke="#aaa" stroke-width="1"/>
<rect x="150.7" y="300.5" width="4.8" height="4.8" fill="#fff" stroke="#aaa" stroke-width="1"/>
<rect x="173.6" y="285.2" width="4.8" height="4.8" fill="#fff" stroke="#aaa" stroke-width="1"/>
<rect x="196.5" y="302.5" width="4.8" height="4.8" fill="#fff" stroke="#aaa" stroke-width="1"/>
<rect x="219.4" y="311.0" width="4.8" height="4.8" fill="#fff" stroke="#aaa" stroke-width="1"/>
<rect x="253.7" y="310.1" width="4.8" height="4.8" fill="#fff" stroke="#aaa" stroke-width="1"/>
<rect x="288.1" y="306.2" width="4.8" height="4.8" fill="#fff" stroke="#aaa" stroke-width="1"/>
<rect x="333.9" y="316.7" width="4.8" height="4.8" fill="#fff" stroke="#aaa" stroke-width="1"/>
<path d="M61.5,315.4L64.0,319.8L59.0,319.8Z" fill="#000"/>
<path d="M84.4,319.4L86.9,323.8L81.9,323.8Z" fill="#000"/>
<path d="M107.3,327.9L109.8,332.3L104.8,332.3Z" fill="#000"/>
<path d="M130.2,328.9L132.7,333.3L127.7,333.3Z" fill="#000"/>
<path d="M153.1,310.9L155.6,315.3L150.6,315.3Z" fill="#000"/>
<path d="M176.0,293.1L178.5,297.5L173.5,297.5Z" fill="#000"/>
<path d="M198.9,300.3L201.4,304.7L196.4,304.7Z" fill="#000"/>
<path d="M221.8,306.3L224.3,310.7L219.3,310.7Z" fill="#000"/>
<path d="M256.1,303.6L258.6,308.0L253.6,308.0Z" fill="#000"/>
<path d="M290.5,296.5L293.0,300.9L288.0,300.9Z" fill="#000"/>
<path d="M336.3,308.4L338.8,312.8L333.8,312.8Z" fill="#000"/>
<text transform="translate(84.5,311.1) scale(0.93,1)" text-anchor="middle" font-family="Liberation Serif" font-size="12.3" fill="#000" stroke="#000" stroke-width="0.05">a</text>
<text transform="translate(93.7,321.7) scale(0.93,1)" text-anchor="middle" font-family="Liberation Serif" font-size="12.3" fill="#000" stroke="#000" stroke-width="0.05">a</text>
<text transform="translate(84.5,339.6) scale(0.93,1)" text-anchor="middle" font-family="Liberation Serif" font-size="12.3" fill="#000" stroke="#000" stroke-width="0.05">a</text>
<text transform="translate(107.5,316.2) scale(0.93,1)" text-anchor="middle" font-family="Liberation Serif" font-size="12.3" fill="#000" stroke="#000" stroke-width="0.05">a</text>
<text transform="translate(116.1,329.4) scale(0.93,1)" text-anchor="middle" font-family="Liberation Serif" font-size="12.3" fill="#000" stroke="#000" stroke-width="0.05">a</text>
<text transform="translate(107.5,344.7) scale(0.93,1)" text-anchor="middle" font-family="Liberation Serif" font-size="12.3" fill="#000" stroke="#000" stroke-width="0.05">a</text>
<text transform="translate(130.0,282.6) scale(0.93,1)" text-anchor="middle" font-family="Liberation Serif" font-size="12.3" fill="#000" stroke="#000" stroke-width="0.05">a</text>
<text transform="translate(140.1,317.2) scale(0.93,1)" text-anchor="middle" font-family="Liberation Serif" font-size="12.3" fill="#000" stroke="#000" stroke-width="0.05">ab</text>
<text transform="translate(130.0,346.7) scale(0.93,1)" text-anchor="middle" font-family="Liberation Serif" font-size="12.3" fill="#000" stroke="#000" stroke-width="0.05">c</text>
<text transform="translate(153.1,269.6) scale(0.93,1)" text-anchor="middle" font-family="Liberation Serif" font-size="12.3" fill="#000" stroke="#000" stroke-width="0.05">ab</text>
<text transform="translate(161.7,304.8) scale(0.93,1)" text-anchor="middle" font-family="Liberation Serif" font-size="12.3" fill="#000" stroke="#000" stroke-width="0.05">bc</text>
<text transform="translate(152.8,326.6) scale(0.93,1)" text-anchor="middle" font-family="Liberation Serif" font-size="12.3" fill="#000" stroke="#000" stroke-width="0.05">c</text>
<text transform="translate(174.9,269.6) scale(0.93,1)" text-anchor="middle" font-family="Liberation Serif" font-size="12.3" fill="#000" stroke="#000" stroke-width="0.05">a</text>
<text transform="translate(183.0,301.2) scale(0.93,1)" text-anchor="middle" font-family="Liberation Serif" font-size="12.3" fill="#000" stroke="#000" stroke-width="0.05">a</text>
<text transform="translate(175.7,327.6) scale(0.93,1)" text-anchor="middle" font-family="Liberation Serif" font-size="12.3" fill="#000" stroke="#000" stroke-width="0.05">ab</text>
<text transform="translate(198.7,285.9) scale(0.93,1)" text-anchor="middle" font-family="Liberation Serif" font-size="12.3" fill="#000" stroke="#000" stroke-width="0.05">a</text>
<text transform="translate(206.5,313.4) scale(0.93,1)" text-anchor="middle" font-family="Liberation Serif" font-size="12.3" fill="#000" stroke="#000" stroke-width="0.05">a</text>
<text transform="translate(198.6,347.0) scale(0.93,1)" text-anchor="middle" font-family="Liberation Serif" font-size="12.3" fill="#000" stroke="#000" stroke-width="0.05">bc</text>
<text transform="translate(221.8,290.6) scale(0.93,1)" text-anchor="middle" font-family="Liberation Serif" font-size="12.3" fill="#000" stroke="#000" stroke-width="0.05">a</text>
<text transform="translate(233.5,320.1) scale(0.93,1)" text-anchor="middle" font-family="Liberation Serif" font-size="12.3" fill="#000" stroke="#000" stroke-width="0.05">ab</text>
<text transform="translate(221.4,351.2) scale(0.93,1)" text-anchor="middle" font-family="Liberation Serif" font-size="12.3" fill="#000" stroke="#000" stroke-width="0.05">bc</text>
<text transform="translate(255.6,290.6) scale(0.93,1)" text-anchor="middle" font-family="Liberation Serif" font-size="12.3" fill="#000" stroke="#000" stroke-width="0.05">a</text>
<text transform="translate(263.3,324.4) scale(0.93,1)" text-anchor="middle" font-family="Liberation Serif" font-size="12.3" fill="#000" stroke="#000" stroke-width="0.05">a</text>
<text transform="translate(255.7,347.5) scale(0.93,1)" text-anchor="middle" font-family="Liberation Serif" font-size="12.3" fill="#000" stroke="#000" stroke-width="0.05">a</text>
<text transform="translate(289.5,273.8) scale(0.93,1)" text-anchor="middle" font-family="Liberation Serif" font-size="12.3" fill="#000" stroke="#000" stroke-width="0.05">a</text>
<text transform="translate(297.1,312.5) scale(0.93,1)" text-anchor="middle" font-family="Liberation Serif" font-size="12.3" fill="#000" stroke="#000" stroke-width="0.05">a</text>
<text transform="translate(298.5,353.2) scale(0.93,1)" text-anchor="middle" font-family="Liberation Serif" font-size="12.3" fill="#000" stroke="#000" stroke-width="0.05">b</text>
<text transform="translate(335.0,290.8) scale(0.93,1)" text-anchor="middle" font-family="Liberation Serif" font-size="12.3" fill="#000" stroke="#000" stroke-width="0.05">a</text>
<text transform="translate(345.6,323.2) scale(0.93,1)" text-anchor="middle" font-family="Liberation Serif" font-size="12.3" fill="#000" stroke="#000" stroke-width="0.05">ab</text>
<text transform="translate(346.4,346.9) scale(0.93,1)" text-anchor="middle" font-family="Liberation Serif" font-size="12.3" fill="#000" stroke="#000" stroke-width="0.05">c</text>
<path d="M404.1,316.9V327.8M402.2,316.9h3.8M402.2,327.8h3.8" stroke="#000" stroke-width="1.7" fill="none"/>
<path d="M402.5,325.5h3.2" stroke="#000" stroke-width="1.3" fill="none"/>
<path d="M427.0,319.6V327.8M425.1,319.6h3.8M425.1,327.8h3.8" stroke="#000" stroke-width="1.7" fill="none"/>
<path d="M449.8,250.9V328.2M447.9,250.9h3.8M447.9,328.2h3.8" stroke="#000" stroke-width="1.7" fill="none"/>
<path d="M448.2,284.1h3.2M448.2,292.5h3.2M448.2,309.0h3.2M448.2,312.9h3.2M448.2,319.6h3.2" stroke="#000" stroke-width="1.3" fill="none"/>
<path d="M472.7,271.7V314.7M470.8,271.7h3.8M470.8,314.7h3.8" stroke="#000" stroke-width="1.7" fill="none"/>
<path d="M471.1,288.6h3.2M471.1,294.3h3.2M471.1,300.6h3.2M471.1,312.4h3.2" stroke="#000" stroke-width="1.3" fill="none"/>
<path d="M495.5,276.8V326.5M493.6,276.8h3.8M493.6,326.5h3.8" stroke="#000" stroke-width="1.7" fill="none"/>
<path d="M493.9,289.4h3.2M493.9,313.5h3.2" stroke="#000" stroke-width="1.3" fill="none"/>
<path d="M518.3,301.3V331.2M516.4,301.3h3.8M516.4,331.2h3.8" stroke="#000" stroke-width="1.7" fill="none"/>
<path d="M516.7,311.4h3.2" stroke="#000" stroke-width="1.3" fill="none"/>
<path d="M541.2,299.6V342.0M539.3,299.6h3.8M539.3,342.0h3.8" stroke="#000" stroke-width="1.7" fill="none"/>
<path d="M539.6,312.3h3.2M539.6,324.0h3.2M539.6,326.1h3.2" stroke="#000" stroke-width="1.3" fill="none"/>
<path d="M575.4,299.9V342.6M573.5,299.9h3.8M573.5,342.6h3.8" stroke="#000" stroke-width="1.7" fill="none"/>
<path d="M573.8,308.6h3.2M573.8,315.8h3.2M573.8,322.1h3.2" stroke="#000" stroke-width="1.3" fill="none"/>
<path d="M609.7,302.2V354.7M607.8,302.2h3.8M607.8,354.7h3.8" stroke="#000" stroke-width="1.7" fill="none"/>
<path d="M608.1,311.3h3.2M608.1,328.5h3.2" stroke="#000" stroke-width="1.3" fill="none"/>
<path d="M655.4,305.8V351.1M653.5,305.8h3.8M653.5,351.1h3.8" stroke="#000" stroke-width="1.7" fill="none"/>
<path d="M653.8,319.4h3.2M653.8,333.9h3.2M653.8,343.0h3.2" stroke="#000" stroke-width="1.3" fill="none"/>
<path d="M381.30,317.90 C385.41,318.51 395.92,320.20 404.14,321.30 C412.36,322.40 418.76,332.51 426.98,324.00 C435.20,315.49 441.60,277.44 449.82,274.00 C458.04,270.56 464.44,297.23 472.66,304.90 C480.88,312.57 487.28,312.68 495.50,316.60 C503.72,320.52 510.12,323.44 518.34,326.70 C526.56,329.96 530.90,334.47 541.18,334.70 C551.46,334.93 563.11,326.79 575.44,328.00 C587.77,329.21 595.31,337.98 609.70,341.40 C624.09,344.82 647.16,345.99 655.38,347.00" stroke="#000" stroke-width="2" fill="none"/>
<path d="M381.30,317.90 C385.41,318.55 395.92,320.31 404.14,321.50 C412.36,322.69 418.76,327.72 426.98,324.50 C435.20,321.28 441.60,311.57 449.82,303.60 C458.04,295.63 464.44,280.63 472.66,280.20 C480.88,279.77 487.28,293.77 495.50,301.20 C503.72,308.63 510.12,318.40 518.34,321.50 C526.56,324.60 530.90,320.29 541.18,318.40 C551.46,316.51 563.11,310.89 575.44,311.00 C587.77,311.11 595.31,315.58 609.70,319.00 C624.09,322.42 647.16,328.02 655.38,330.00" stroke="#000" stroke-width="1.5" fill="none" stroke-dasharray="1.5 2"/>
<path d="M381.30,318.00 C385.41,318.72 395.92,320.65 404.14,322.00 C412.36,323.35 418.76,325.88 426.98,325.50 C435.20,325.12 441.60,324.27 449.82,319.90 C458.04,315.53 464.44,306.69 472.66,301.20 C480.88,295.71 487.28,287.46 495.50,289.40 C503.72,291.34 510.12,307.84 518.34,312.00 C526.56,316.16 530.90,313.11 541.18,312.50 C551.46,311.89 563.11,308.87 575.44,308.60 C587.77,308.33 595.31,308.95 609.70,311.00 C624.09,313.05 647.16,318.38 655.38,320.00" stroke="#000" stroke-width="2" fill="none" stroke-dasharray="6.5 5 1.5 5"/>
<circle cx="381.3" cy="317.9" r="2.5" fill="#fff" stroke="#000" stroke-width="1"/>
<circle cx="404.1" cy="321.3" r="2.5" fill="#fff" stroke="#000" stroke-width="1"/>
<circle cx="427.0" cy="324.0" r="2.5" fill="#fff" stroke="#000" stroke-width="1"/>
<circle cx="449.8" cy="274.0" r="2.5" fill="#fff" stroke="#000" stroke-width="1"/>
<circle cx="472.7" cy="304.9" r="2.5" fill="#fff" stroke="#000" stroke-width="1"/>
<circle cx="495.5" cy="316.6" r="2.5" fill="#fff" stroke="#000" stroke-width="1"/>
<circle cx="518.3" cy="326.7" r="2.5" fill="#fff" stroke="#000" stroke-width="1"/>
<circle cx="541.2" cy="334.7" r="2.5" fill="#fff" stroke="#000" stroke-width="1"/>
<circle cx="575.4" cy="328.0" r="2.5" fill="#fff" stroke="#000" stroke-width="1"/>
<circle cx="609.7" cy="341.4" r="2.5" fill="#fff" stroke="#000" stroke-width="1"/>
<circle cx="655.4" cy="347.0" r="2.5" fill="#fff" stroke="#000" stroke-width="1"/>
<rect x="378.9" y="315.5" width="4.8" height="4.8" fill="#fff" stroke="#aaa" stroke-width="1"/>
<rect x="401.7" y="319.1" width="4.8" height="4.8" fill="#fff" stroke="#aaa" stroke-width="1"/>
<rect x="424.6" y="322.1" width="4.8" height="4.8" fill="#fff" stroke="#aaa" stroke-width="1"/>
<rect x="447.4" y="301.2" width="4.8" height="4.8" fill="#fff" stroke="#aaa" stroke-width="1"/>
<rect x="470.3" y="277.8" width="4.8" height="4.8" fill="#fff" stroke="#aaa" stroke-width="1"/>
<rect x="493.1" y="298.8" width="4.8" height="4.8" fill="#fff" stroke="#aaa" stroke-width="1"/>
<rect x="515.9" y="319.1" width="4.8" height="4.8" fill="#fff" stroke="#aaa" stroke-width="1"/>
<rect x="538.8" y="316.0" width="4.8" height="4.8" fill="#fff" stroke="#aaa" stroke-width="1"/>
<rect x="573.0" y="308.6" width="4.8" height="4.8" fill="#fff" stroke="#aaa" stroke-width="1"/>
<rect x="607.3" y="316.6" width="4.8" height="4.8" fill="#fff" stroke="#aaa" stroke-width="1"/>
<rect x="653.0" y="327.6" width="4.8" height="4.8" fill="#fff" stroke="#aaa" stroke-width="1"/>
<path d="M381.3,315.4L383.8,319.8L378.8,319.8Z" fill="#000"/>
<path d="M404.1,319.4L406.6,323.8L401.6,323.8Z" fill="#000"/>
<path d="M427.0,322.9L429.5,327.3L424.5,327.3Z" fill="#000"/>
<path d="M449.8,317.3L452.3,321.7L447.3,321.7Z" fill="#000"/>
<path d="M472.7,298.6L475.2,303.0L470.2,303.0Z" fill="#000"/>
<path d="M495.5,286.8L498.0,291.2L493.0,291.2Z" fill="#000"/>
<path d="M518.3,309.4L520.8,313.8L515.8,313.8Z" fill="#000"/>
<path d="M541.2,309.9L543.7,314.3L538.7,314.3Z" fill="#000"/>
<path d="M575.4,306.0L577.9,310.4L572.9,310.4Z" fill="#000"/>
<path d="M609.7,308.4L612.2,312.8L607.2,312.8Z" fill="#000"/>
<path d="M655.4,317.4L657.9,321.8L652.9,321.8Z" fill="#000"/>
<text transform="translate(405.1,313.7) scale(0.93,1)" text-anchor="middle" font-family="Liberation Serif" font-size="12.3" fill="#000" stroke="#000" stroke-width="0.05">a</text>
<text transform="translate(411.7,322.3) scale(0.93,1)" text-anchor="middle" font-family="Liberation Serif" font-size="12.3" fill="#000" stroke="#000" stroke-width="0.05">a</text>
<text transform="translate(404.0,338.2) scale(0.93,1)" text-anchor="middle" font-family="Liberation Serif" font-size="12.3" fill="#000" stroke="#000" stroke-width="0.05">a</text>
<text transform="translate(427.5,316.6) scale(0.93,1)" text-anchor="middle" font-family="Liberation Serif" font-size="12.3" fill="#000" stroke="#000" stroke-width="0.05">a</text>
<text transform="translate(435.7,325.4) scale(0.93,1)" text-anchor="middle" font-family="Liberation Serif" font-size="12.3" fill="#000" stroke="#000" stroke-width="0.05">a</text>
<text transform="translate(427.0,339.0) scale(0.93,1)" text-anchor="middle" font-family="Liberation Serif" font-size="12.3" fill="#000" stroke="#000" stroke-width="0.05">a</text>
<text transform="translate(449.2,247.0) scale(0.93,1)" text-anchor="middle" font-family="Liberation Serif" font-size="12.3" fill="#000" stroke="#000" stroke-width="0.05">a</text>
<text transform="translate(456.5,303.5) scale(0.93,1)" text-anchor="middle" font-family="Liberation Serif" font-size="12.3" fill="#000" stroke="#000" stroke-width="0.05">b</text>
<text transform="translate(449.4,339.6) scale(0.93,1)" text-anchor="middle" font-family="Liberation Serif" font-size="12.3" fill="#000" stroke="#000" stroke-width="0.05">bc</text>
<text transform="translate(472.2,267.9) scale(0.93,1)" text-anchor="middle" font-family="Liberation Serif" font-size="12.3" fill="#000" stroke="#000" stroke-width="0.05">a</text>
<text transform="translate(482.8,306.2) scale(0.93,1)" text-anchor="middle" font-family="Liberation Serif" font-size="12.3" fill="#000" stroke="#000" stroke-width="0.05">bc</text>
<text transform="translate(472.2,326.0) scale(0.93,1)" text-anchor="middle" font-family="Liberation Serif" font-size="12.3" fill="#000" stroke="#000" stroke-width="0.05">c</text>
<text transform="translate(495.4,273.6) scale(0.93,1)" text-anchor="middle" font-family="Liberation Serif" font-size="12.3" fill="#000" stroke="#000" stroke-width="0.05">a</text>
<text transform="translate(505.6,306.6) scale(0.93,1)" text-anchor="middle" font-family="Liberation Serif" font-size="12.3" fill="#000" stroke="#000" stroke-width="0.05">ab</text>
<text transform="translate(495.1,339.7) scale(0.93,1)" text-anchor="middle" font-family="Liberation Serif" font-size="12.3" fill="#000" stroke="#000" stroke-width="0.05">b</text>
<text transform="translate(518.5,299.1) scale(0.93,1)" text-anchor="middle" font-family="Liberation Serif" font-size="12.3" fill="#000" stroke="#000" stroke-width="0.05">ab</text>
<text transform="translate(527.5,324.5) scale(0.93,1)" text-anchor="middle" font-family="Liberation Serif" font-size="12.3" fill="#000" stroke="#000" stroke-width="0.05">bc</text>
<text transform="translate(518.0,341.7) scale(0.93,1)" text-anchor="middle" font-family="Liberation Serif" font-size="12.3" fill="#000" stroke="#000" stroke-width="0.05">c</text>
<text transform="translate(542.2,295.5) scale(0.93,1)" text-anchor="middle" font-family="Liberation Serif" font-size="12.3" fill="#000" stroke="#000" stroke-width="0.05">ab</text>
<text transform="translate(554.7,327.9) scale(0.93,1)" text-anchor="middle" font-family="Liberation Serif" font-size="12.3" fill="#000" stroke="#000" stroke-width="0.05">abc</text>
<text transform="translate(541.0,351.9) scale(0.93,1)" text-anchor="middle" font-family="Liberation Serif" font-size="12.3" fill="#000" stroke="#000" stroke-width="0.05">c</text>
<text transform="translate(575.3,298.2) scale(0.93,1)" text-anchor="middle" font-family="Liberation Serif" font-size="12.3" fill="#000" stroke="#000" stroke-width="0.05">a</text>
<text transform="translate(582.0,325.4) scale(0.93,1)" text-anchor="middle" font-family="Liberation Serif" font-size="12.3" fill="#000" stroke="#000" stroke-width="0.05">a</text>
<text transform="translate(576.0,351.4) scale(0.93,1)" text-anchor="middle" font-family="Liberation Serif" font-size="12.3" fill="#000" stroke="#000" stroke-width="0.05">a</text>
<text transform="translate(609.3,299.0) scale(0.93,1)" text-anchor="middle" font-family="Liberation Serif" font-size="12.3" fill="#000" stroke="#000" stroke-width="0.05">a</text>
<text transform="translate(619.0,332.4) scale(0.93,1)" text-anchor="middle" font-family="Liberation Serif" font-size="12.3" fill="#000" stroke="#000" stroke-width="0.05">ab</text>
<text transform="translate(617.0,354.4) scale(0.93,1)" text-anchor="middle" font-family="Liberation Serif" font-size="12.3" fill="#000" stroke="#000" stroke-width="0.05">b</text>
<text transform="translate(655.3,302.2) scale(0.93,1)" text-anchor="middle" font-family="Liberation Serif" font-size="12.3" fill="#000" stroke="#000" stroke-width="0.05">ab</text>
<text transform="translate(666.0,336.4) scale(0.93,1)" text-anchor="middle" font-family="Liberation Serif" font-size="12.3" fill="#000" stroke="#000" stroke-width="0.05">bc</text>
<text transform="translate(663.0,351.4) scale(0.93,1)" text-anchor="middle" font-family="Liberation Serif" font-size="12.3" fill="#000" stroke="#000" stroke-width="0.05">c</text>
<text transform="translate(49.2,13.8) scale(0.93,1)" text-anchor="middle" font-family="Liberation Serif" font-weight="bold" font-size="15.6" fill="#000">A</text>
<text transform="translate(372,17.6) scale(0.93,1)" text-anchor="middle" font-family="Liberation Serif" font-weight="bold" font-size="15.6" fill="#000">B</text>
<text transform="translate(52.5,208.8) scale(0.93,1)" text-anchor="middle" font-family="Liberation Serif" font-weight="bold" font-size="15.6" fill="#000">C</text>
<text transform="translate(372.5,208.8) scale(0.93,1)" text-anchor="middle" font-family="Liberation Serif" font-weight="bold" font-size="15.6" fill="#000">D</text>
<text x="395.3" y="13.2" font-family="Liberation Serif" font-weight="bold" font-style="italic" font-size="13.55" fill="#000">Daphnia</text>
<text x="292.7" y="13.5" font-family="Liberation Serif" font-weight="bold" font-style="italic" font-size="13.55" fill="#000">Daphnia</text>
<text x="300.7" y="209.6" font-family="Liberation Serif" font-weight="bold" font-style="italic" font-size="13.5" fill="#000">Moina</text>
<text x="397.2" y="208.6" font-family="Liberation Serif" font-weight="bold" font-style="italic" font-size="13.5" fill="#000">Moina</text>
<path d="M71,5.6H91.6" stroke="#000" stroke-width="2"/>
<circle cx="81.2" cy="5.6" r="2.4" fill="#fff" stroke="#000" stroke-width="1"/>
<path d="M71,23.2H77M85,23.2H90" stroke="#000" stroke-width="1.5" stroke-dasharray="1.5 2"/>
<rect x="78.4" y="20.9" width="4.6" height="4.6" fill="#fff" stroke="#aaa" stroke-width="1"/>
<path d="M71,40.9H77.4M89.8,40.9H91" stroke="#000" stroke-width="2"/>
<path d="M81.6,38.3L84.1,42.7L79.1,42.7Z" fill="#000"/>
<text transform="translate(93.3,9) scale(0.935,1)" font-family="Liberation Serif" font-size="11.3" fill="#1a1a1a">Large base</text>
<text transform="translate(93.3,26.8) scale(0.935,1)" font-family="Liberation Serif" font-size="11.3" fill="#1a1a1a">Medium base</text>
<text transform="translate(93.3,43.6) scale(0.935,1)" font-family="Liberation Serif" font-size="11.3" fill="#1a1a1a">Small base</text>
<text x="161.3" y="405.1" font-family="Liberation Serif" font-weight="bold" font-size="15.7" fill="#000">Small scale</text>
<text x="489.6" y="405.3" font-family="Liberation Serif" font-weight="bold" font-size="15.7" fill="#000">Large scale</text>
<text x="317.3" y="435.9" font-family="Liberation Serif" font-weight="bold" font-size="17.6" letter-spacing="0.25" fill="#000">Spatial scale</text>
<text transform="translate(13.0,257.5) rotate(-90) scale(0.933,1)" font-family="Liberation Serif" font-weight="bold" font-size="16.5" fill="#000">Grazer density (no ml<tspan dy="-5.5" font-size="9.5">-1</tspan><tspan dy="5.5">)</tspan></text>
</svg>
</body></html>
